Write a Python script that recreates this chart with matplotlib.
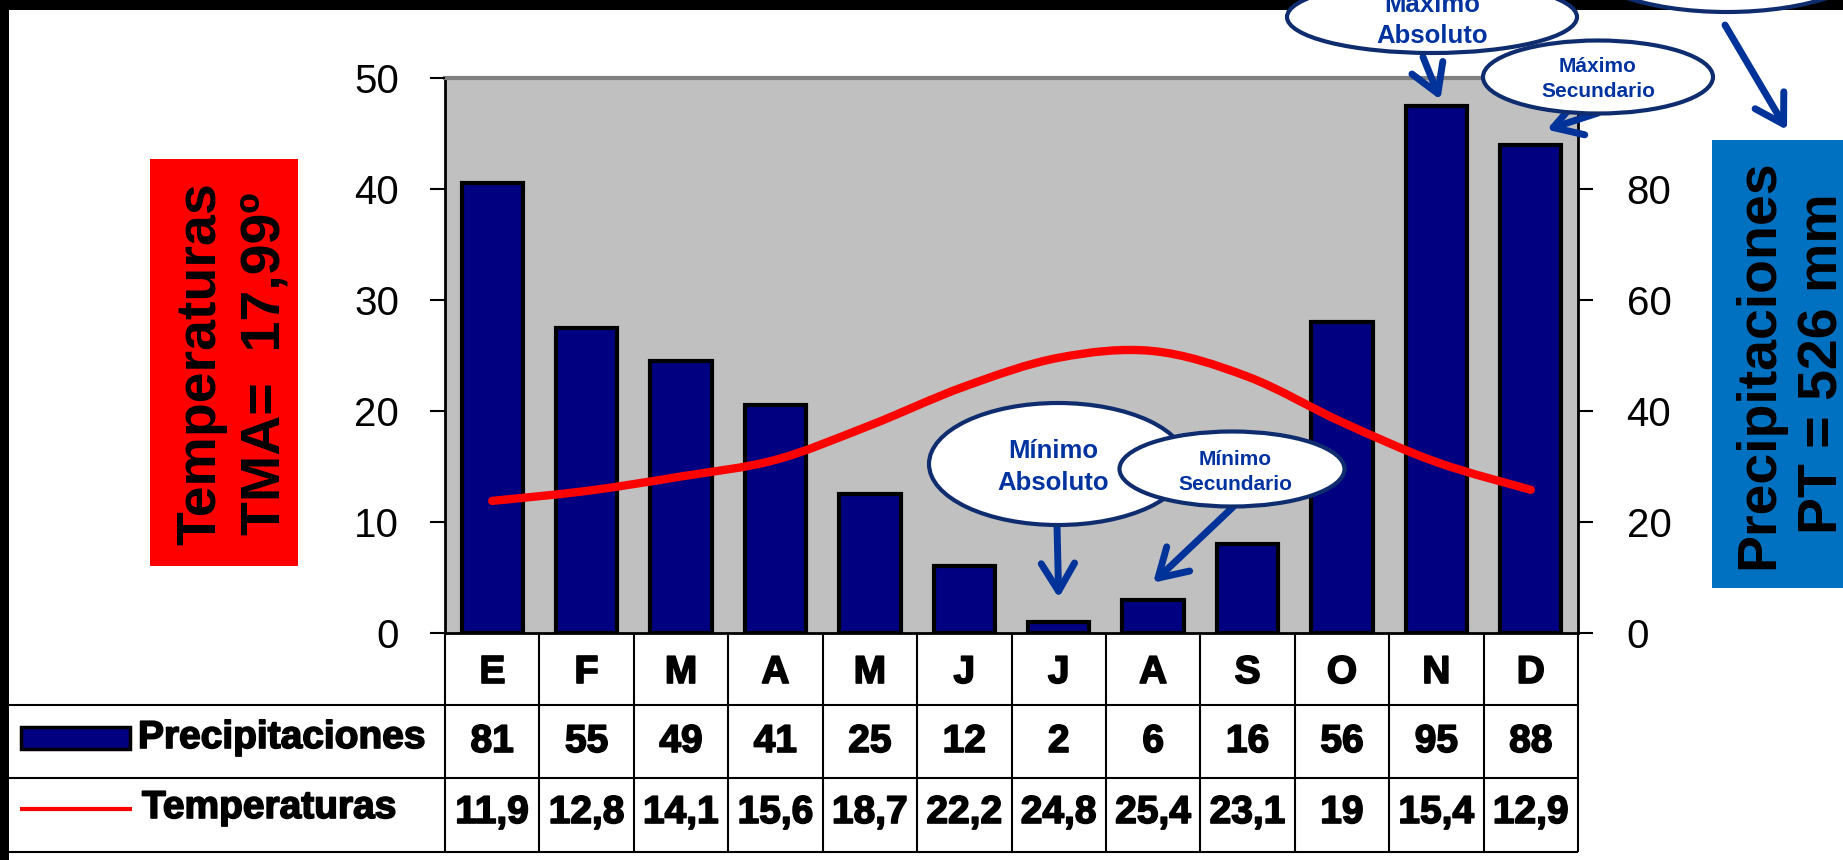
import numpy as np
import matplotlib
matplotlib.use("Agg")
import matplotlib.pyplot as plt
from matplotlib.path import Path
from matplotlib.patches import PathPatch, Rectangle, Ellipse, ArrowStyle
from matplotlib import transforms
import matplotlib.patheffects as pe

# ---- data ----
months = ["E", "F", "M", "A", "M", "J", "J", "A", "S", "O", "N", "D"]
precip = [81, 55, 49, 41, 25, 12, 2, 6, 16, 56, 95, 88]
temps = [11.9, 12.8, 14.1, 15.6, 18.7, 22.2, 24.8, 25.4, 23.1, 19, 15.4, 12.9]
temp_ticks = [0, 10, 20, 30, 40, 50]
precip_ticks = [0, 20, 40, 60, 80, 100]
precip_tick_labels = ["0", "20", "40", "60", "80", ""]

W, H = 1843, 860
FONT = "Liberation Sans"
plt.rcParams["font.family"] = [FONT, "DejaVu Sans"]

NAVY = "#000080"
RED = "#FF0000"
CALL_EDGE = "#0F2D6E"
CALL_TEXT = "#0033A0"
ARROW = "#003399"

fig = plt.figure(figsize=(W / 100, H / 100), dpi=100)
fig.patch.set_facecolor("white")

# ---- main chart: precipitation bars (right scale) ----
ax = fig.add_axes([445 / W, (H - 633) / H, 1133 / W, 555 / H])
ax.set_facecolor("#C0C0C0")
x = np.arange(len(months))
ax.bar(x, precip, width=0.65, color=NAVY, edgecolor="black", linewidth=3, zorder=2)
ax.set_xlim(-0.5, len(months) - 0.5)
ax.set_ylim(0, 100)
ax.set_xticks([])

# ---- temperature curve (left scale) ----
axT = ax.twinx()
axT.set_ylim(0, 50)
axT.yaxis.tick_left()
axT.set_yticks(temp_ticks)
axT.tick_params(axis="y", direction="out", length=11, width=1.5, pad=22,
                labelsize=29)
for sp in axT.spines.values():
    sp.set_visible(False)

ax.yaxis.tick_right()
ax.set_yticks(precip_ticks)
ax.set_yticklabels(precip_tick_labels)
ax.tick_params(axis="y", direction="out", length=11, width=1.5, pad=24,
               labelsize=29)
ax.spines["top"].set_color("#808080")
ax.spines["top"].set_linewidth(3)
for side in ("left", "right", "bottom"):
    ax.spines[side].set_color("black")
    ax.spines[side].set_linewidth(2)

pts = np.column_stack([x, temps]).astype(float)
n = len(pts)
verts = [pts[0]]
codes = [Path.MOVETO]
for i in range(n - 1):
    p_prev = pts[i - 1] if i > 0 else pts[i]
    p_next = pts[i + 2] if i + 2 < n else pts[i + 1]
    c1 = pts[i] + (pts[i + 1] - p_prev) / 6.0
    c2 = pts[i + 1] - (p_next - pts[i]) / 6.0
    verts += [c1, c2, pts[i + 1]]
    codes += [Path.CURVE4] * 3
axT.add_patch(PathPatch(Path(verts, codes), fill=False, edgecolor=RED, lw=6,
                        capstyle="round", joinstyle="round", zorder=3))

# ---- arrows pointing at notable bars ----
arrow_style = ArrowStyle("->", head_length=1.0, head_width=0.6)


def pointer(idx, dx, dy, tail):
    tip = transforms.offset_copy(ax.transData, fig=fig, x=dx, y=dy, units="dots")
    ax.annotate("", xy=(idx, precip[idx]), xycoords=tip,
                xytext=(tail[0], H - tail[1]), textcoords="figure pixels",
                annotation_clip=False,
                arrowprops=dict(arrowstyle=arrow_style, color=ARROW, lw=5,
                                mutation_scale=20, shrinkA=0, shrinkB=0,
                                capstyle="round", joinstyle="round"))


pointer(6, 0, 24, (1057, 525))
pointer(7, 0, 17, (1233, 507))
pointer(10, 4, 6, (1423, 57))
pointer(11, 16, 15, (1598, 113))

# ---- overlay in figure pixels (y downward) ----
ov = fig.add_axes([0, 0, 1, 1], zorder=10)
ov.set_xlim(0, W)
ov.set_ylim(H, 0)
ov.axis("off")
ov.patch.set_alpha(0)

ov.add_patch(Rectangle((0, 0), W, 10, color="black", lw=0))
ov.add_patch(Rectangle((0, 0), 9, H, color="black", lw=0))

# side boxes
ov.add_patch(Rectangle((150, 159), 148, 407, fc=RED, ec="none"))
tma = sum(temps) / len(temps)
ov.text(215, 364, "Temperaturas", rotation=90, rotation_mode="anchor",
        ha="center", va="baseline", fontsize=40, fontweight="bold")
ov.text(280, 364, "TMA=  " + f"{tma:.2f}".replace(".", ",") + "º", rotation=90,
        rotation_mode="anchor", ha="center", va="baseline", fontsize=40,
        fontweight="bold")

ov.add_patch(Rectangle((1712, 140), W - 1712 + 5, 448, fc="#0070C0", ec="none"))
ov.text(1773, 364, "Precipitaciones", rotation=90, rotation_mode="anchor",
        ha="center", va="baseline", fontsize=40, fontweight="bold")
ov.text(1838, 364, f"PT = {sum(precip)} mm", rotation=90, rotation_mode="anchor",
        ha="center", va="baseline", fontsize=40, fontweight="bold")

# ---- data table under the chart ----
tb = transforms.blended_transform_factory(ax.transData, ov.transData)
right_px = ax.transData.transform((len(months) - 0.5, 0))[0]
row_y = [633, 705, 778, 852]
for k in range(len(months) + 1):
    ov.plot([k - 0.5, k - 0.5], [row_y[0], row_y[-1]], color="black", lw=1.5,
            transform=tb, solid_capstyle="butt")
for yy in row_y[1:]:
    ov.plot([9, right_px], [yy, yy], color="black", lw=1.5, solid_capstyle="butt")

heavy = [pe.withStroke(linewidth=1.2, foreground="black")]
TBL = dict(fontsize=28, fontweight="bold", ha="center", va="baseline",
           path_effects=heavy)
for i, m in enumerate(months):
    ov.text(i, 683, m, transform=tb, **TBL)
    ov.text(i, 752, str(precip[i]), transform=tb, **TBL)
    ov.text(i, 823, f"{temps[i]:g}".replace(".", ","), transform=tb, **TBL)

ov.add_patch(Rectangle((21, 727), 109, 22, fc=NAVY, ec="black", lw=2.5))
ov.plot([20, 132], [809, 809], color=RED, lw=3, solid_capstyle="butt")
ov.text(138, 748, "Precipitaciones", fontsize=28, fontweight="bold",
        ha="left", va="baseline", path_effects=heavy)
ov.text(142, 818, "Temperaturas", fontsize=28, fontweight="bold",
        ha="left", va="baseline", path_effects=heavy)

# ---- callouts ----
def callout(cx, cy, w, h, lines, baselines, tx, size):
    ov.add_patch(Ellipse((cx, cy), w, h, fc="white", ec=CALL_EDGE, lw=3))
    for s, b in zip(lines, baselines):
        ov.text(tx, b, s, ha="center", va="baseline", fontsize=size,
                fontweight="bold", color=CALL_TEXT)


callout(1727, -43, 300, 110, [], [], 1727, 15)
callout(1432, 17, 290, 72, ["Máximo", "Absoluto"], [12, 43], 1432, 18.5)
callout(1598, 77, 230, 73, ["Máximo", "Secundario"], [72, 97], 1598, 15)
callout(1058, 464, 258, 122, ["Mínimo", "Absoluto"], [458, 490], 1053, 18.5)
callout(1232, 469, 225, 75, ["Mínimo", "Secundario"], [465, 490], 1235, 15)

ov.annotate("", xy=(1787, 130), xytext=(1725, 25),
            arrowprops=dict(arrowstyle=arrow_style, color=ARROW, lw=5,
                            mutation_scale=20, shrinkA=0, shrinkB=0,
                            capstyle="round", joinstyle="round"))

fig.savefig("out.png", dpi=100, facecolor="white")
